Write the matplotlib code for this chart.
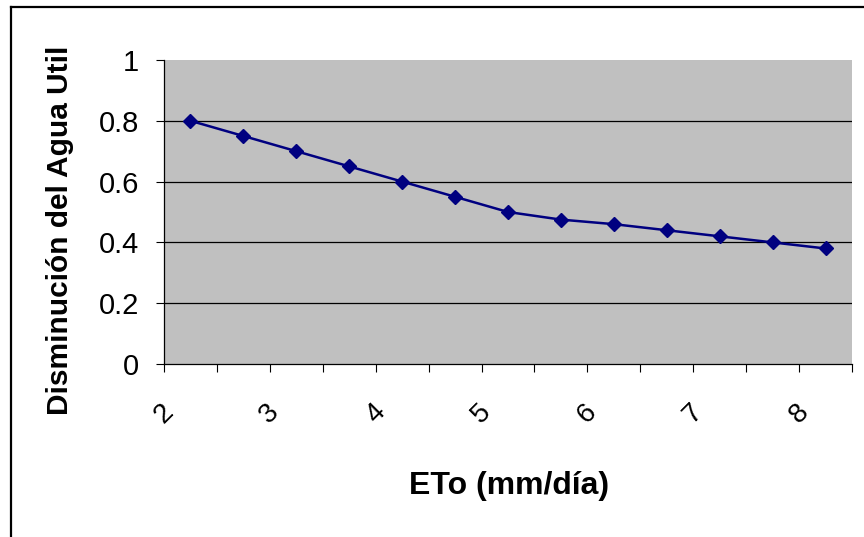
import matplotlib
matplotlib.use("Agg")
import matplotlib.pyplot as plt
from matplotlib.lines import Line2D
import numpy as np

# Data
depletion = [0.80, 0.75, 0.70, 0.65, 0.60, 0.55, 0.50, 0.475, 0.46, 0.44, 0.42, 0.40, 0.38]
x_tick_labels = ["2", "3", "4", "5", "6", "7", "8"]
y_ticks = [0, 0.2, 0.4, 0.6, 0.8, 1]
y_tick_labels = ["0", "0.2", "0.4", "0.6", "0.8", "1"]
x_label = "ETo (mm/día)"
y_label = "Disminución del Agua Util"

plt.rcParams['font.family'] = ['Liberation Sans', 'DejaVu Sans']

W, H = 864, 537
fig = plt.figure(figsize=(W / 100, H / 100), dpi=100)
fig.patch.set_facecolor('white')

ax = fig.add_axes([164 / W, (H - 364) / H, 688 / W, 304 / H])
ax.set_facecolor('#C0C0C0')

n = len(depletion)
xs = np.arange(n) + 0.5
ax.plot(xs, depletion, color='#000080', lw=1.8, marker='D', ms=7.5,
        mfc='#000080', mec='#000080', mew=1.0, zorder=3)

ax.set_xlim(0, n)
ax.set_ylim(0, 1)

# gridlines
for yv in y_ticks[1:-1]:
    ax.axhline(yv, color='black', lw=0.9, zorder=1)

ax.set_yticks(y_ticks)
ax.set_yticklabels(y_tick_labels, fontsize=21)
ax.tick_params(axis='y', direction='out', length=6, width=0.8, pad=12, colors='black')

ax.set_xticks(np.arange(0, n + 1), minor=True)
ax.set_xticks(np.arange(0, n + 1, 2))
ax.set_xticklabels(x_tick_labels, fontsize=20, rotation=45, ha='center', va='top')
ax.tick_params(axis='x', which='both', direction='out', length=6, width=0.8, colors='black')
ax.tick_params(axis='x', which='major', pad=19)

for s in ['top', 'right']:
    ax.spines[s].set_visible(False)
for s in ['left', 'bottom']:
    ax.spines[s].set_color('black')
    ax.spines[s].set_linewidth(0.9)

fig.text(509 / W, 1 - 486 / H, x_label, fontsize=23, fontweight='bold',
         ha='center', va='center')
fig.text(60 / W, 1 - 230 / H, y_label, fontsize=21.5, fontweight='bold',
         rotation=90, ha='center', va='center')

# outer chart frame (partially visible)
fig.add_artist(Line2D([11 / W, 1.0], [1 - 7 / H, 1 - 7 / H], color='black', lw=1.6,
                      transform=fig.transFigure))
fig.add_artist(Line2D([11 / W, 11 / W], [1 - 7 / H, 0.0], color='black', lw=1.6,
                      transform=fig.transFigure))

fig.savefig('out.png', dpi=100)
